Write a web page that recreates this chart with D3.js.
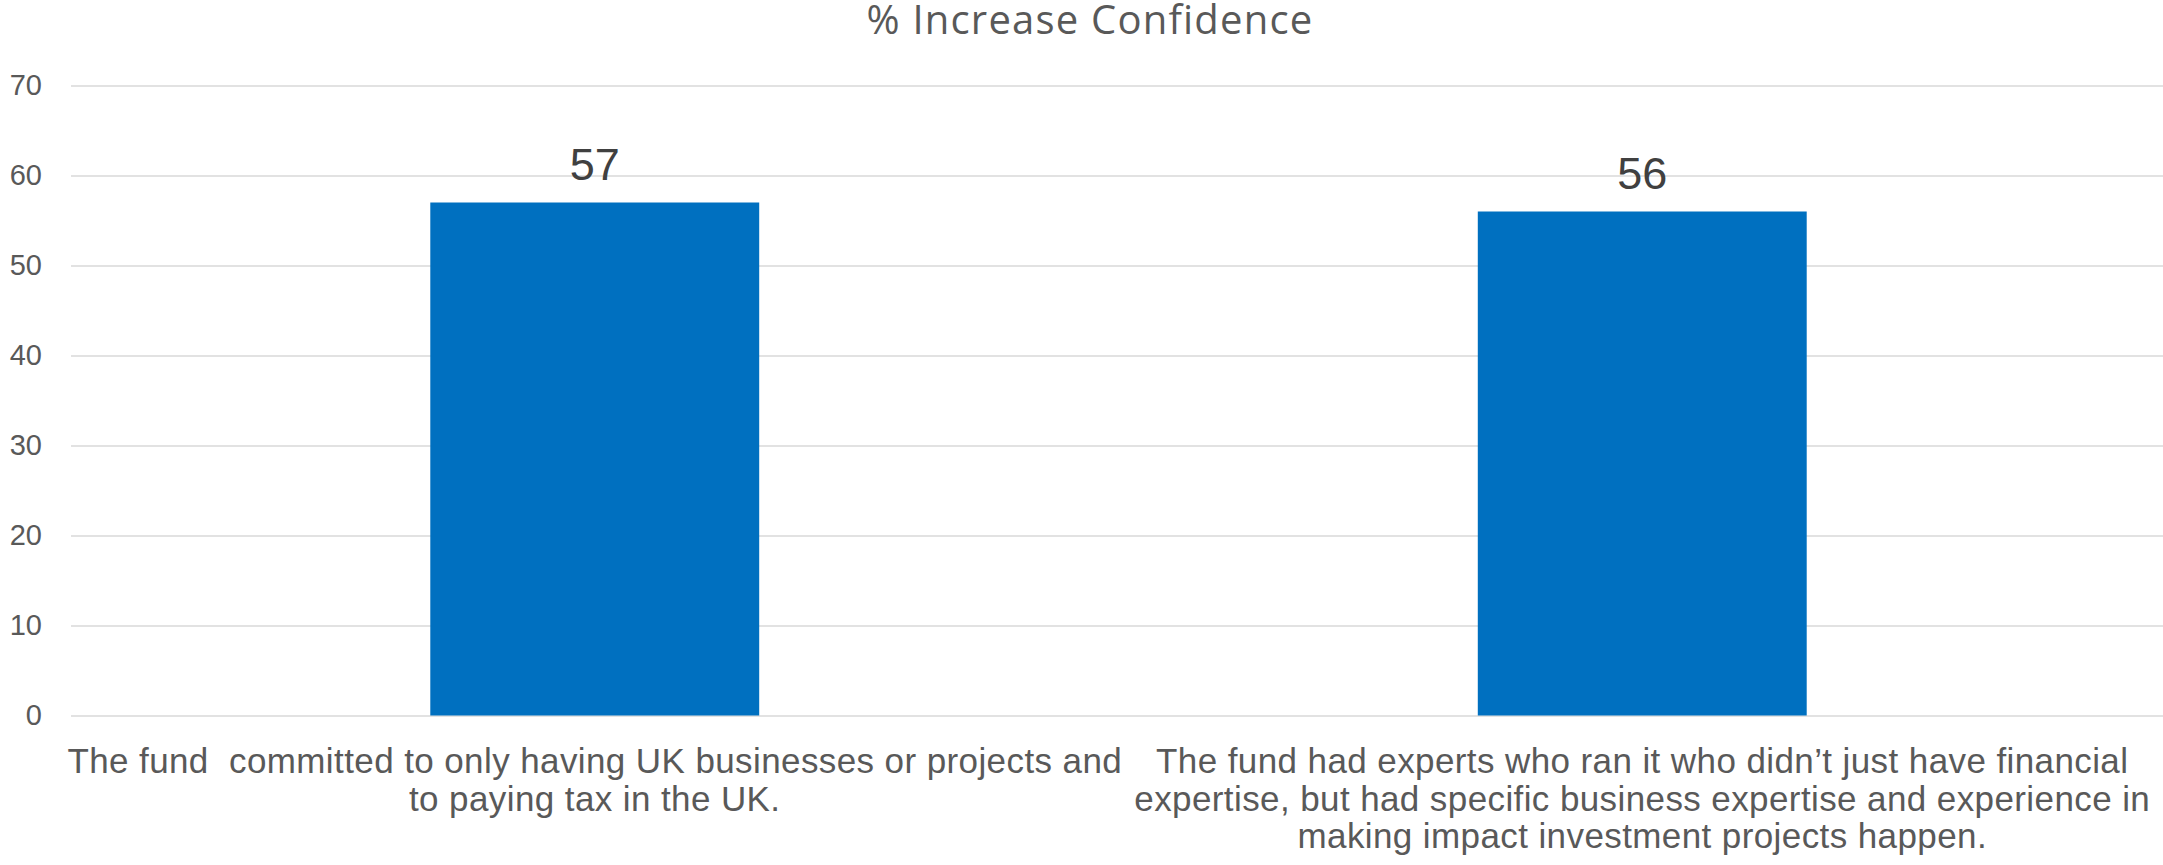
<!DOCTYPE html>
<html>
<head>
<meta charset="utf-8">
<script src="https://cdn.jsdelivr.net/npm/d3@7"></script>
<style>
  html, body { margin: 0; padding: 0; background: #ffffff; }
  svg { display: block; }
</style>
</head>
<body>
<svg id="chart" width="2163" height="865"></svg>
<script>
// Chart data
const title = "% Increase Confidence";
const categories = ["fund-uk", "fund-experts"];
const categoryLines = [
  ["The fund  committed to only having UK businesses or projects and", "to paying tax in the UK."],
  ["The fund had experts who ran it who didn\u2019t just have financial", "expertise, but had specific business expertise and experience in", "making impact investment projects happen."]
];
const values = [57, 56];
const yTicks = [0, 10, 20, 30, 40, 50, 60, 70];

const W = 2163, H = 865;
const plot = { left: 71, right: 2166, top: 85.5, bottom: 715.5 };

const svg = d3.select("#chart");

const x = d3.scaleBand()
  .domain(categories)
  .range([plot.left, plot.right])
  .paddingInner(0.686)
  .paddingOuter(0.343);

const y = d3.scaleLinear()
  .domain([0, 70])
  .range([plot.bottom, plot.top]);

// Horizontal gridlines and value axis labels
const yAxis = d3.axisLeft(y)
  .tickValues(yTicks)
  .tickSize(-(W - plot.left))
  .tickPadding(29)
  .tickFormat(d3.format("d"));

const yG = svg.append("g")
  .attr("transform", `translate(${plot.left},0)`)
  .call(yAxis);
yG.select(".domain").remove();
yG.selectAll(".tick line")
  .attr("stroke", "#d9d9d9")
  .attr("stroke-width", 1.6);
yG.selectAll(".tick text")
  .attr("fill", "#595959")
  .style("font-family", "'Liberation Sans', Arial, sans-serif")
  .style("font-size", "29px");

// Bars
svg.append("g").selectAll("rect")
  .data(values)
  .join("rect")
  .attr("x", (d, i) => x(categories[i]))
  .attr("y", d => y(d))
  .attr("width", x.bandwidth())
  .attr("height", d => y(0) - y(d))
  .attr("fill", "#0070c0");

// Value labels above the bars
svg.append("g").selectAll("text")
  .data(values)
  .join("text")
  .attr("x", (d, i) => x(categories[i]) + x.bandwidth() / 2)
  .attr("y", d => y(d) - 23)
  .attr("text-anchor", "middle")
  .attr("fill", "#404040")
  .style("font-family", "'Liberation Sans', Arial, sans-serif")
  .style("font-size", "45px")
  .text(d => d);

// Category labels below the axis, wrapped onto lines
const catG = svg.append("g").selectAll("text")
  .data(categoryLines)
  .join("text")
  .attr("text-anchor", "middle")
  .attr("fill", "#595959")
  .style("font-family", "'Liberation Sans', Arial, sans-serif")
  .style("font-size", "35px")
  .style("letter-spacing", "0.4px")
  .style("white-space", "pre");
catG.each(function(lines, i) {
  const cx = x(categories[i]) + x.bandwidth() / 2;
  d3.select(this).selectAll("tspan")
    .data(lines)
    .join("tspan")
    .attr("x", cx)
    .attr("y", (l, j) => 773 + j * 37.5)
    .text(l => l);
});

// Title
svg.append("text")
  .attr("x", 1090)
  .attr("y", 34)
  .attr("text-anchor", "middle")
  .attr("fill", "#595959")
  .style("font-family", "'Open Sans', sans-serif")
  .style("font-size", "40px")
  .style("letter-spacing", "1.2px")
  .text(title);
</script>
</body>
</html>
